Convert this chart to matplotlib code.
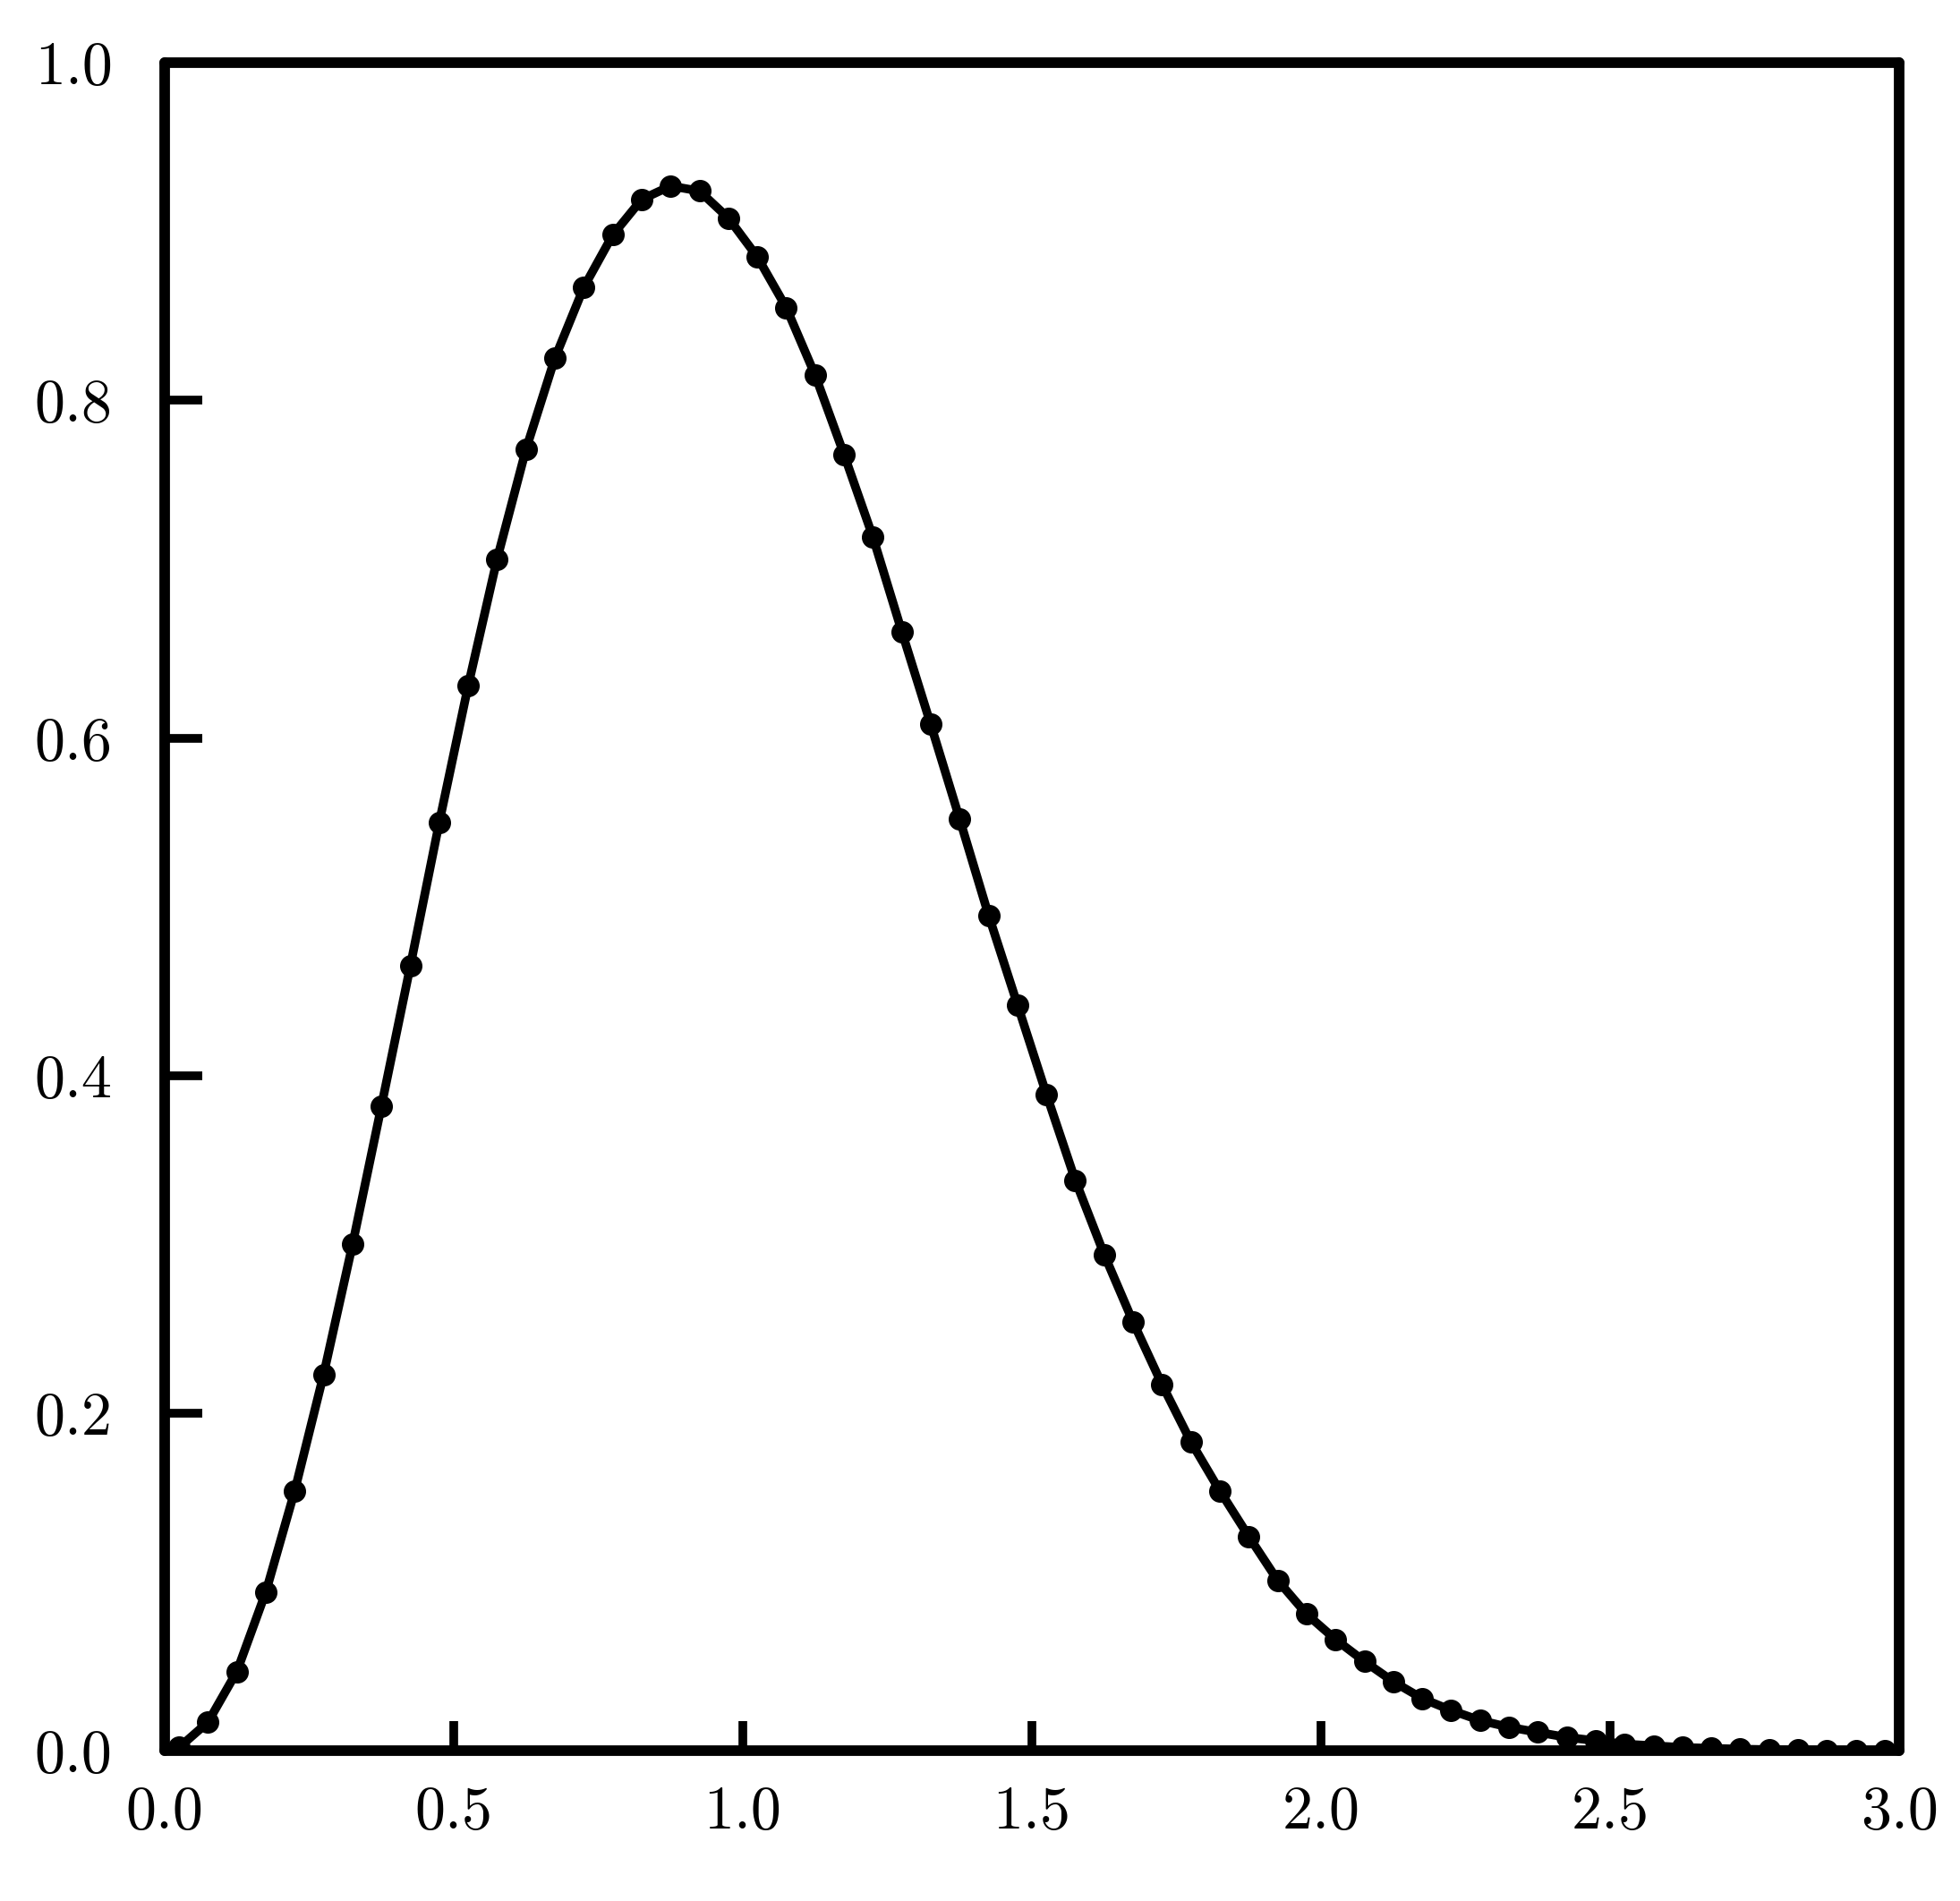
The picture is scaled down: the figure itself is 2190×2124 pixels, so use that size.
import numpy as np
import matplotlib
matplotlib.use("Agg")
import matplotlib.pyplot as plt

plt.rcParams['font.family'] = ['cmr10', 'DejaVu Serif']
plt.rcParams['axes.formatter.use_mathtext'] = True

# spacing histogram bin centres and heights
s_vals = [0.025, 0.075, 0.125, 0.175, 0.225, 0.275, 0.325, 0.375, 0.425, 0.475,
          0.525, 0.575, 0.625, 0.675, 0.725, 0.775, 0.825, 0.875, 0.925, 0.975,
          1.025, 1.075, 1.125, 1.175, 1.225, 1.275, 1.325, 1.375, 1.425, 1.475,
          1.525, 1.575, 1.625, 1.675, 1.725, 1.775, 1.825, 1.875, 1.925, 1.975,
          2.025, 2.075, 2.125, 2.175, 2.225, 2.275, 2.325, 2.375, 2.425, 2.475,
          2.525, 2.575, 2.625, 2.675, 2.725, 2.775, 2.825, 2.875, 2.925, 2.975]
p_vals = [0.002, 0.017, 0.047, 0.094, 0.154, 0.223, 0.300, 0.382, 0.465, 0.550,
          0.631, 0.706, 0.771, 0.825, 0.867, 0.898, 0.919, 0.927, 0.924, 0.908,
          0.885, 0.855, 0.815, 0.768, 0.719, 0.663, 0.608, 0.552, 0.495, 0.442,
          0.389, 0.338, 0.294, 0.254, 0.217, 0.183, 0.154, 0.127, 0.101, 0.081,
          0.066, 0.053, 0.041, 0.031, 0.024, 0.018, 0.014, 0.011, 0.008, 0.006,
          0.004, 0.003, 0.002, 0.0015, 0.001, 0.0007, 0.0005, 0.0003, 0.0002, 0.0001]

x_ticks = [0.0, 0.5, 1.0, 1.5, 2.0, 2.5, 3.0]
x_labels = ["0.0", "0.5", "1.0", "1.5", "2.0", "2.5", "3.0"]
y_ticks = [0.0, 0.2, 0.4, 0.6, 0.8, 1.0]
y_labels = ["0.0", "0.2", "0.4", "0.6", "0.8", "1.0"]

fig = plt.figure(figsize=(21.9, 21.24), dpi=100)
ax = fig.add_axes([0.084, 0.079, 0.885, 0.888])

ax.plot(s_vals, p_vals, color="black", lw=7, solid_capstyle="round",
        solid_joinstyle="round", marker="o", markersize=17,
        markerfacecolor="black", markeredgecolor="black")

ax.set_xlim(0, 3.0)
ax.set_ylim(0, 1.0)
ax.set_xticks(x_ticks)
ax.set_xticklabels(x_labels)
ax.set_yticks(y_ticks)
ax.set_yticklabels(y_labels)

for sp in ax.spines.values():
    sp.set_linewidth(8.5)
    sp.set_capstyle("round")

ax.tick_params(axis="both", direction="in", width=7, labelsize=49, top=False, right=False)
ax.tick_params(axis="x", length=24, pad=28)
ax.tick_params(axis="y", length=30, pad=42)

plt.savefig("out.png", dpi=100)
plt.close()
